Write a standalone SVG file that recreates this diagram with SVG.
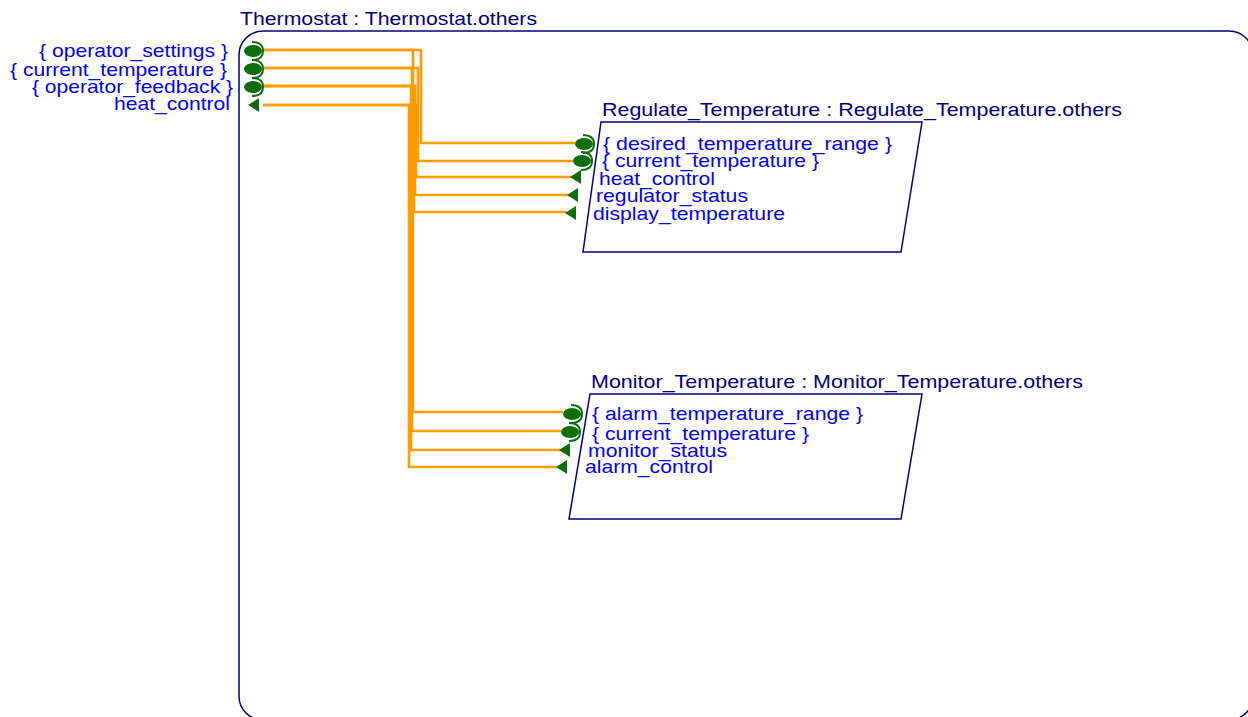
<svg xmlns="http://www.w3.org/2000/svg" width="1248" height="717" viewBox="0 0 1248 717">
  <defs>
    <style>
      .title { font-family: "Liberation Sans", Arial, sans-serif; font-size: 19px; fill: #000080; }
      .port { font-family: "Liberation Sans", Arial, sans-serif; font-size: 19px; fill: #0000ff; }
      .frame { fill: none; stroke: #000080; stroke-width: 1.5; }
      .wire { fill: none; stroke: #ff9c00; stroke-width: 2.6; }
      .dataport { fill: #0a6e0a; }
      .socket { fill: none; stroke: #0a6e0a; stroke-width: 2; }
      .evport { fill: #0a6e0a; }
    </style>
    <!-- data port: filled ellipse with a socket brace on its right -->
    <g id="dport">
      <ellipse class="dataport" cx="0" cy="0" rx="9" ry="6"/>
      <path class="socket" d="M-1,-9 C7,-9 10,-5 10,0 C10,5 7,9 -1,9"/>
    </g>
    <!-- event port: left-pointing triangle -->
    <polygon id="eport" class="evport" points="-6,0 5,-7 5,7"/>
  </defs>

  <!-- Thermostat container -->
  <g id="thermostat">
    <rect class="frame" x="239" y="31" width="1014" height="689" rx="24" ry="24"/>
    <text class="title" x="240" y="25" textLength="297" lengthAdjust="spacingAndGlyphs">Thermostat : Thermostat.others</text>
    <text class="port" x="39" y="57" textLength="189" lengthAdjust="spacingAndGlyphs">{ operator_settings }</text>
    <text class="port" x="10" y="76" textLength="217" lengthAdjust="spacingAndGlyphs">{ current_temperature }</text>
    <text class="port" x="32" y="93" textLength="201" lengthAdjust="spacingAndGlyphs">{ operator_feedback }</text>
    <text class="port" x="114" y="110" textLength="116" lengthAdjust="spacingAndGlyphs">heat_control</text>
  </g>

  <!-- connectors -->
  <g id="connectors">
    <path class="wire" d="M263,50 H421 V143 H575"/>
    <path class="wire" d="M263,50 H413 V412 H563"/>
    <path class="wire" d="M263,68 H418 V161 H573"/>
    <path class="wire" d="M263,68 H412 V431 H561"/>
    <path class="wire" d="M263,86 H415 V195 H569"/>
    <path class="wire" d="M263,86 H414 V212 H567"/>
    <path class="wire" d="M263,86 H411 V450 H562"/>
    <path class="wire" d="M263,105 H416 V177 H572"/>
    <path class="wire" d="M263,105 H409 V467 H559"/>
  </g>

  <!-- Thermostat boundary ports -->
  <g id="thermostat-ports">
    <use href="#dport" x="253" y="51"/>
    <use href="#dport" x="253" y="69"/>
    <use href="#dport" x="253" y="87"/>
    <use href="#eport" x="254" y="105"/>
  </g>

  <!-- Regulate_Temperature -->
  <g id="regulate">
    <polygon class="frame" points="601,122 922,122 901,252 583,252"/>
    <text class="title" x="602" y="116" textLength="520" lengthAdjust="spacingAndGlyphs">Regulate_Temperature : Regulate_Temperature.others</text>
    <text class="port" x="603" y="150" textLength="289" lengthAdjust="spacingAndGlyphs">{ desired_temperature_range }</text>
    <text class="port" x="602" y="167" textLength="217" lengthAdjust="spacingAndGlyphs">{ current_temperature }</text>
    <text class="port" x="599" y="185" textLength="116" lengthAdjust="spacingAndGlyphs">heat_control</text>
    <text class="port" x="596" y="202" textLength="152" lengthAdjust="spacingAndGlyphs">regulator_status</text>
    <text class="port" x="593" y="220" textLength="192" lengthAdjust="spacingAndGlyphs">display_temperature</text>
    <use href="#dport" x="584" y="144"/>
    <use href="#dport" x="582" y="161"/>
    <use href="#eport" x="576" y="177"/>
    <use href="#eport" x="573" y="195"/>
    <use href="#eport" x="571" y="213"/>
  </g>

  <!-- Monitor_Temperature -->
  <g id="monitor">
    <polygon class="frame" points="590,394 922,394 901,519 569,519"/>
    <text class="title" x="591" y="388" textLength="492" lengthAdjust="spacingAndGlyphs">Monitor_Temperature : Monitor_Temperature.others</text>
    <text class="port" x="592" y="420" textLength="271" lengthAdjust="spacingAndGlyphs">{ alarm_temperature_range }</text>
    <text class="port" x="592" y="440" textLength="217" lengthAdjust="spacingAndGlyphs">{ current_temperature }</text>
    <text class="port" x="588" y="457" textLength="139" lengthAdjust="spacingAndGlyphs">monitor_status</text>
    <text class="port" x="585" y="473" textLength="128" lengthAdjust="spacingAndGlyphs">alarm_control</text>
    <use href="#dport" x="572" y="414"/>
    <use href="#dport" x="570" y="432"/>
    <use href="#eport" x="565" y="450"/>
    <use href="#eport" x="562" y="467"/>
  </g>
</svg>
